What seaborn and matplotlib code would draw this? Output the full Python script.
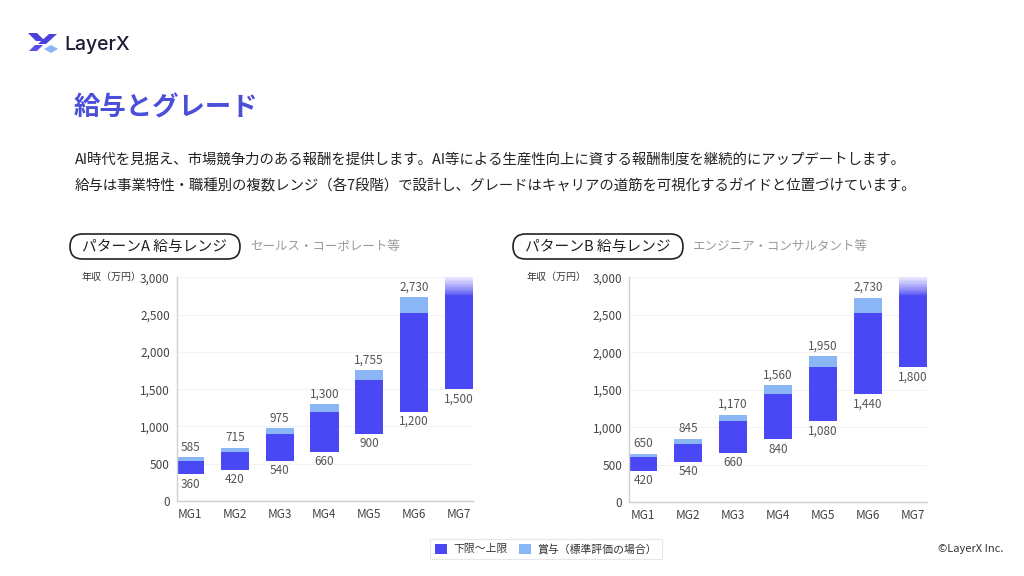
import numpy as np
import pandas as pd
import matplotlib
matplotlib.use("Agg")
import matplotlib.pyplot as plt
import matplotlib.colors as mcolors
from matplotlib.patches import FancyBboxPatch, Patch, Polygon
from matplotlib.ticker import FuncFormatter
import seaborn as sns

# ---------------- data ----------------
categories = ["MG1", "MG2", "MG3", "MG4", "MG5", "MG6", "MG7"]
a_lower = [360, 420, 540, 660, 900, 1200, 1500]
a_upper = [540, 660, 900, 1200, 1620, 2520, np.nan]      # MG7 open-ended
a_total = [585, 715, 975, 1300, 1755, 2730, np.nan]      # upper + bonus
b_lower = [420, 540, 660, 840, 1080, 1440, 1800]
b_upper = [600, 780, 1080, 1440, 1800, 2520, np.nan]
b_total = [650, 845, 1170, 1560, 1950, 2730, np.nan]
y_ticks = [0, 500, 1000, 1500, 2000, 2500, 3000]
open_top = 3000      # open-ended bar runs to the top of the scale
fade_from = 2750     # where the open-ended bar starts to fade

title = "給与とグレード"
para = ["AI時代を見据え、市場競争力のある報酬を提供します。AI等による生産性向上に資する報酬制度を継続的にアップデートします。",
        "給与は事業特性・職種別の複数レンジ（各7段階）で設計し、グレードはキャリアの道筋を可視化するガイドと位置づけています。"]
pill_a, sub_a = "パターンA 給与レンジ", "セールス・コーポレート等"
pill_b, sub_b = "パターンB 給与レンジ", "エンジニア・コンサルタント等"
ylabel = "年収（万円）"
legend_labels = ["下限〜上限", "賞与（標準評価の場合）"]

DARK = "#4A47F4"
LIGHT = "#8BB6F6"
TITLE_C = "#4B4FD8"

sns.set_theme(style="white")
plt.rcParams["font.family"] = ["Noto Sans CJK JP", "DejaVu Sans"]

fig = plt.figure(figsize=(10.24, 5.76), dpi=100)
fig.patch.set_facecolor("white")

# overlay for slide decorations in pixel coordinates
bg = fig.add_axes([0, 0, 1, 1])
bg.set_xlim(0, 1024)
bg.set_ylim(576, 0)
bg.axis("off")
bg.patch.set_alpha(0)

# logo
for pts, c in [([(28, 33), (37, 33), (45, 41), (36, 41)], "#4A40DC"),
               ([(38, 44), (46, 44), (57, 34), (49, 34)], "#4A40DC"),
               ([(29, 51), (37, 51), (43, 45), (35, 45)], "#5A50E6"),
               ([(44, 49), (51, 45), (58, 49), (51, 53)], "#8AB4F8")]:
    bg.add_patch(Polygon(pts, closed=True, color=c, lw=0))
bg.text(64, 45, "LayerX", fontsize=14, color="#1C1C36", va="center", ha="left",
        family=["Inter", "DejaVu Sans"], fontweight="medium")

bg.text(74, 108, title, fontsize=19, color=TITLE_C, fontweight="bold", va="center", ha="left")
bg.text(75, 160, para[0], fontsize=10.4, color="#222222", va="center", ha="left")
bg.text(75, 186, para[1], fontsize=10.4, color="#222222", va="center", ha="left")

for x0, pill, sub in [(70, pill_a, sub_a), (513, pill_b, sub_b)]:
    bg.add_patch(FancyBboxPatch((x0, 234), 170, 25, boxstyle="round,pad=0,rounding_size=12.5",
                                fc="white", ec="#222222", lw=1.2))
    bg.text(x0 + 12, 246.5, pill, fontsize=10.6, color="#222222", va="center", ha="left")
    bg.text(x0 + 180, 246.5, sub, fontsize=9, color="#9A9A9A", va="center", ha="left")

bg.text(82, 277, ylabel, fontsize=7.2, color="#333333", va="center", ha="left")
bg.text(527, 277, ylabel, fontsize=7.2, color="#333333", va="center", ha="left")
bg.text(1003, 549, "©LayerX Inc.", fontsize=8, color="#333333", va="center", ha="right")

W = 0.63
white = np.array(mcolors.to_rgb("white"))
dark = np.array(mcolors.to_rgb(DARK))


def draw(ax, lower, upper, total, xlim):
    df = pd.DataFrame({"grade": categories, "lower": lower, "upper": upper, "total": total})
    df["range_top"] = df["upper"].fillna(fade_from)
    df["range_h"] = df["range_top"] - df["lower"]
    sns.barplot(data=df, x="grade", y="range_h", order=categories, bottom=df["lower"].to_numpy(),
                color=DARK, saturation=1, width=W, errorbar=None, linewidth=0, ax=ax)
    closed = df.dropna(subset=["upper"]).copy()
    closed["bonus_h"] = closed["total"] - closed["upper"]
    sns.barplot(data=closed, x="grade", y="bonus_h", order=categories,
                bottom=closed["upper"].to_numpy(), color=LIGHT, saturation=1, width=W,
                errorbar=None, linewidth=0, ax=ax)
    # fading top of open-ended bar(s)
    open_rows = df[df["upper"].isna()]
    n = 24
    edges = np.linspace(fade_from, open_top, n + 1)
    for _, r in open_rows.iterrows():
        xi = categories.index(r["grade"])
        for k in range(n):
            t = (k + 0.5) / n
            m = 0.88 * t ** 0.8
            c = dark * (1 - m) + white * m
            ax.bar(xi, edges[k + 1] - edges[k], bottom=edges[k], width=W, color=c, lw=0)
    # labels
    for i, r in df.iterrows():
        if np.isfinite(r["total"]):
            ax.annotate(f"{r['total']:,.0f}", (i, r["total"]), xytext=(0, 2.5),
                        textcoords="offset points", ha="center", va="bottom",
                        fontsize=8.5, color="#555555")
        ax.annotate(f"{r['lower']:,.0f}", (i, r["lower"]), xytext=(0, -2.5),
                    textcoords="offset points", ha="center", va="top",
                    fontsize=8.5, color="#555555")
    ax.set_ylim(0, open_top)
    ax.set_xlim(*xlim)
    ax.set_yticks(y_ticks)
    ax.yaxis.set_major_formatter(FuncFormatter(lambda v, p: f"{v:,.0f}"))
    ax.set_xlabel("")
    ax.set_ylabel("")
    ax.yaxis.grid(True, color="#F3F3F3", lw=0.8)
    ax.xaxis.grid(False)
    ax.set_axisbelow(True)
    for s in ["top", "right"]:
        ax.spines[s].set_visible(False)
    for s in ["left", "bottom"]:
        ax.spines[s].set_color("#D0D0D0")
        ax.spines[s].set_linewidth(1)
    ax.tick_params(axis="both", length=0, labelsize=8.5, colors="#444444")
    ax.tick_params(axis="y", pad=5)
    ax.tick_params(axis="x", pad=5)
    ax.patch.set_alpha(0)


ax1 = fig.add_axes([176.7 / 1024, 1 - 501 / 576, 296.3 / 1024, 223.7 / 576])
draw(ax1, a_lower, a_upper, a_total, (-0.3, 6.32))
ax2 = fig.add_axes([629.3 / 1024, 1 - 502.3 / 576, 297.7 / 1024, 225 / 576])
draw(ax2, b_lower, b_upper, b_total, (-0.31, 6.31))

handles = [Patch(facecolor=DARK, edgecolor="none"), Patch(facecolor=LIGHT, edgecolor="none")]
leg = fig.legend(handles, legend_labels, loc="center", bbox_to_anchor=(546 / 1024, 1 - 549 / 576),
                 ncol=2, frameon=True, fontsize=7.8, handlelength=1.1, handleheight=1.1,
                 handletextpad=0.6, columnspacing=1.0, borderpad=0.45, fancybox=False)
leg.get_frame().set_edgecolor("#E2E2E2")
leg.get_frame().set_linewidth(0.8)
for t in leg.get_texts():
    t.set_color("#333333")

fig.savefig("out.png", dpi=100, facecolor="white")
